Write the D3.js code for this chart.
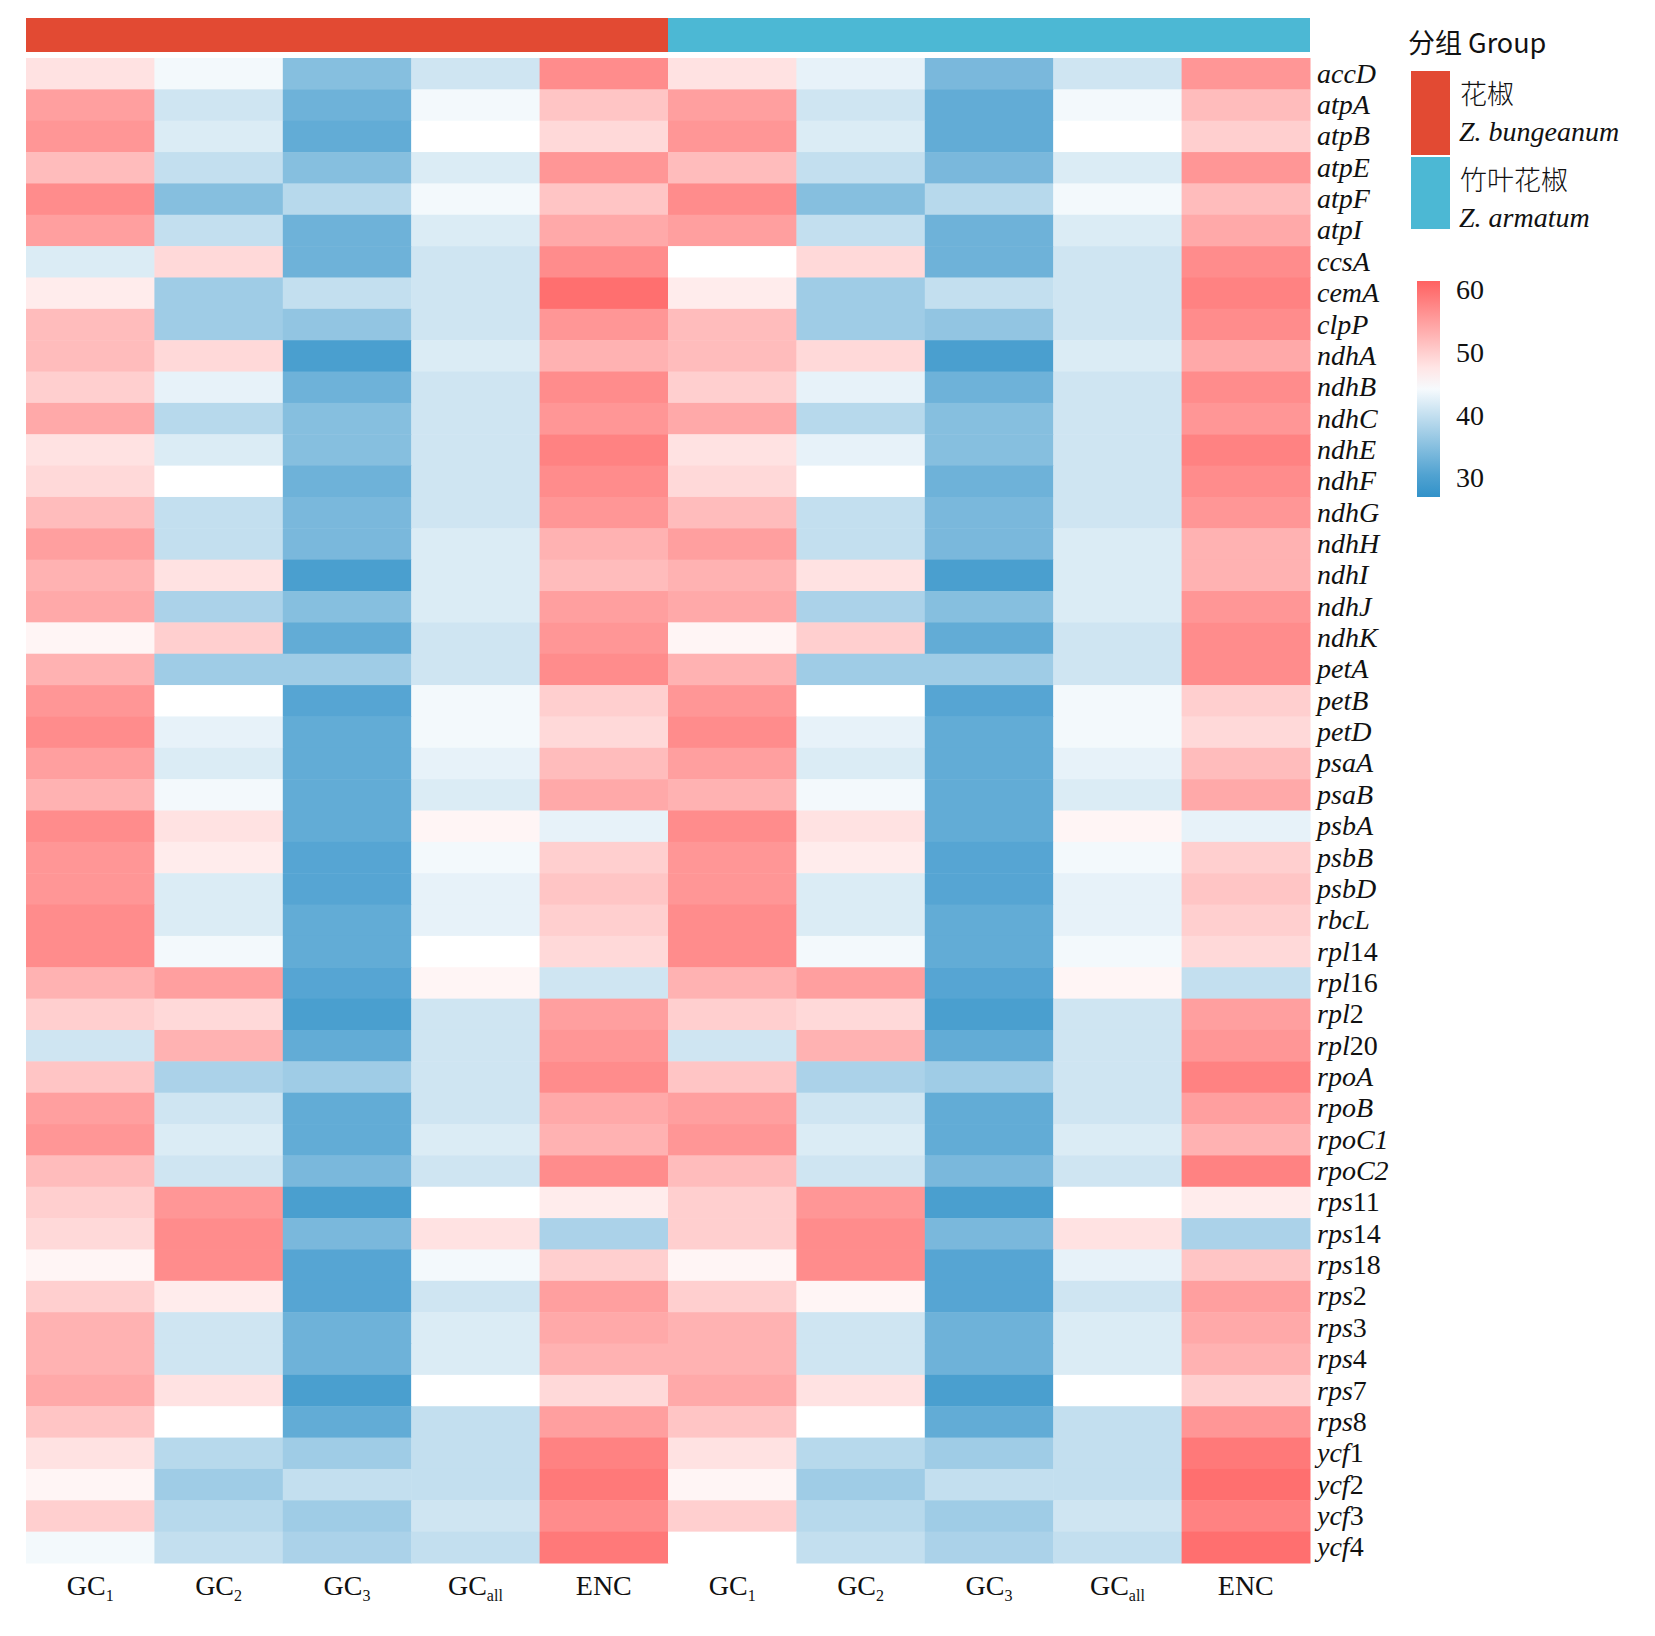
<!DOCTYPE html>
<html>
<head>
<meta charset="utf-8">
<script src="https://d3js.org/d3.v7.min.js"></script>
<style>
body{margin:0;background:#fff}
text{font-family:"Liberation Serif","DejaVu Serif",serif;fill:#111}
</style>
</head>
<body>
<script>
var genes = ["accD","atpA","atpB","atpE","atpF","atpI","ccsA","cemA","clpP","ndhA","ndhB","ndhC","ndhE","ndhF","ndhG","ndhH","ndhI","ndhJ","ndhK","petA","petB","petD","psaA","psaB","psbA","psbB","psbD","rbcL","rpl14","rpl16","rpl2","rpl20","rpoA","rpoB","rpoC1","rpoC2","rps11","rps14","rps18","rps2","rps3","rps4","rps7","rps8","ycf1","ycf2","ycf3","ycf4"]
var metrics = ["GC1","GC2","GC3","GCall","ENC"]
var groups = ["花椒","竹叶花椒"]
var groupLatin = ["Z. bungeanum","Z. armatum"]
var groupColors = ["#e24a33","#4cb8d4"]
var legendTicks = [30,40,50,60]

// Z. bungeanum: GC1, GC2, GC3, GCall, ENC
var bungeanum = [
[48,44,35,41,57],[55,41,33,44,51],[56,42,32,45,49],[52,40,35,42,56],[57,35,39,44,51],
[55,40,33,42,54],[42,49,33,41,57],[47,37,40,41,60],[52,37,36,41,56],[52,49,30,42,53],
[50,43,33,41,57],[54,39,35,41,56],[48,42,35,41,58],[49,45,33,41,57],[52,40,34,41,56],
[55,40,34,42,53],[53,48,30,42,52],[54,38,35,42,55],[46,50,32,41,56],[53,37,37,41,57],
[56,45,31,44,50],[57,43,32,44,49],[55,42,32,43,52],[53,44,32,42,54],[57,48,32,46,43],
[56,47,31,44,50],[56,42,31,43,51],[57,42,32,43,50],[57,44,32,45,49],[53,55,31,46,41],
[50,49,30,41,55],[41,53,32,41,56],[51,38,37,41,57],[55,41,32,41,54],[56,42,32,42,53],
[52,41,34,41,57],[50,56,30,45,47],[49,57,34,48,38],[46,57,31,44,50],[50,47,31,41,55],
[53,41,33,42,54],[53,41,33,42,53],[54,48,30,45,49],[51,45,32,40,55],[48,39,37,40,58],
[46,37,40,40,59],[50,39,37,41,57],[44,40,38,40,59]
]
// Z. armatum
var armatum = [
[48,43,34,41,56],[55,41,32,44,52],[56,42,32,45,50],[52,40,34,42,56],[57,35,39,44,52],
[55,40,33,42,54],[45,49,33,41,57],[47,37,40,41,58],[52,37,36,41,57],[52,49,30,42,54],
[50,43,33,41,57],[54,39,35,41,56],[48,43,35,41,58],[49,45,33,41,57],[52,40,34,41,56],
[55,40,34,42,53],[53,48,30,42,53],[54,38,35,42,56],[46,50,32,41,57],[53,37,37,41,57],
[56,45,31,44,50],[57,43,32,44,49],[55,42,32,43,52],[53,44,32,42,54],[57,48,32,46,43],
[56,47,31,44,50],[56,42,31,43,51],[57,42,32,43,50],[57,44,32,44,49],[53,55,31,46,40],
[50,49,30,41,55],[41,53,32,41,56],[51,38,37,41,58],[55,41,32,41,55],[56,42,32,42,53],
[52,41,34,41,58],[50,56,30,45,47],[50,57,34,48,38],[46,57,31,43,51],[50,46,31,41,55],
[53,41,33,42,54],[53,41,33,42,53],[54,48,30,45,50],[51,45,32,40,56],[48,39,37,40,59],
[46,37,40,40,60],[50,39,37,41,58],[45,40,38,40,60]
]

var W = 1655, H = 1636
var hmLeft = 26, hmRight = 1310, hmTop = 58, hmBottom = 1563

var svg = d3.select("body").append("svg").attr("width",W).attr("height",H)

var cols = []
groups.forEach(function(g,gi){ metrics.forEach(function(m){ cols.push(gi+"_"+m) }) })
var x = d3.scaleBand().domain(cols).range([hmLeft,hmRight])
var y = d3.scaleBand().domain(genes).range([hmTop,hmBottom])
var color = d3.scaleLinear().domain([28,45,62]).range(["#3292c9","#ffffff","#ff5c5c"]).clamp(true)

var cells = []
;[bungeanum,armatum].forEach(function(arr,gi){
  arr.forEach(function(row,ri){
    row.forEach(function(v,mi){ cells.push({col:gi+"_"+metrics[mi],gene:genes[ri],v:v}) })
  })
})

svg.append("g").selectAll("rect").data(cells).enter().append("rect")
  .attr("x",function(d){return x(d.col)})
  .attr("y",function(d){return y(d.gene)})
  .attr("width",x.bandwidth()+0.5)
  .attr("height",y.bandwidth()+0.5)
  .attr("fill",function(d){return color(d.v)})

// group annotation bar
groups.forEach(function(g,gi){
  var x0 = x(gi+"_GC1"), x1 = x(gi+"_ENC")+x.bandwidth()
  svg.append("rect").attr("x",x0).attr("y",18).attr("width",x1-x0).attr("height",34).attr("fill",groupColors[gi])
})

// row labels
svg.append("g").selectAll("text").data(genes).enter().append("text")
  .attr("x",hmRight+7)
  .attr("y",function(d){return y(d)+y.bandwidth()/2+9})
  .attr("font-size",28).attr("font-style","italic")
  .each(function(d){
    var m = d.match(/^([a-zA-Z]+?)(\d+)$/)
    if(m && /^(rpl|rps|ycf)/.test(d)){
      d3.select(this).append("tspan").text(m[1])
      d3.select(this).append("tspan").attr("font-style","normal").text(m[2])
    } else d3.select(this).text(d)
  })

// column labels
var labs = {GC1:["GC","1"],GC2:["GC","2"],GC3:["GC","3"],GCall:["GC","all"],ENC:["ENC",""]}
cols.forEach(function(c){
  var l = labs[c.split("_")[1]]
  var t = svg.append("text").attr("x",x(c)+x.bandwidth()/2).attr("y",1595)
    .attr("text-anchor","middle").attr("font-size",28)
  t.append("tspan").text(l[0])
  if(l[1]) t.append("tspan").attr("font-size",16).attr("dy",6).text(l[1])
})

// group legend
svg.append("text").attr("x",1408).attr("y",53).attr("font-size",27)
  .text("分组 Group").style("font-family","'Noto Sans CJK SC','Liberation Serif',serif")
groups.forEach(function(g,gi){
  var yy = 71 + gi*86
  svg.append("rect").attr("x",1411).attr("y",yy).attr("width",39).attr("height",gi==0?84:72).attr("fill",groupColors[gi])
  svg.append("text").attr("x",1460).attr("y",yy+33).attr("font-size",27)
    .style("font-family","'Noto Sans CJK SC',sans-serif").style("font-weight",300).text(g)
  svg.append("text").attr("x",1459).attr("y",yy+70).attr("font-size",28).attr("font-style","italic").text(groupLatin[gi])
})

// colour bar
var ly = d3.scaleLinear().domain([27,61.5]).range([497,281])
var defs = svg.append("defs")
var grad = defs.append("linearGradient").attr("id","cb").attr("x1",0).attr("y1",1).attr("x2",0).attr("y2",0)
d3.range(0,1.0001,0.1).forEach(function(t){
  grad.append("stop").attr("offset",t).attr("stop-color",color(27+t*34.5))
})
svg.append("rect").attr("x",1417).attr("y",281).attr("width",23).attr("height",216).attr("fill","url(#cb)")
svg.append("g").selectAll("text").data(legendTicks).enter().append("text")
  .attr("x",1456).attr("y",function(d){return ly(d)+9}).attr("font-size",28)
  .text(function(d){return d})
</script>
</body>
</html>
